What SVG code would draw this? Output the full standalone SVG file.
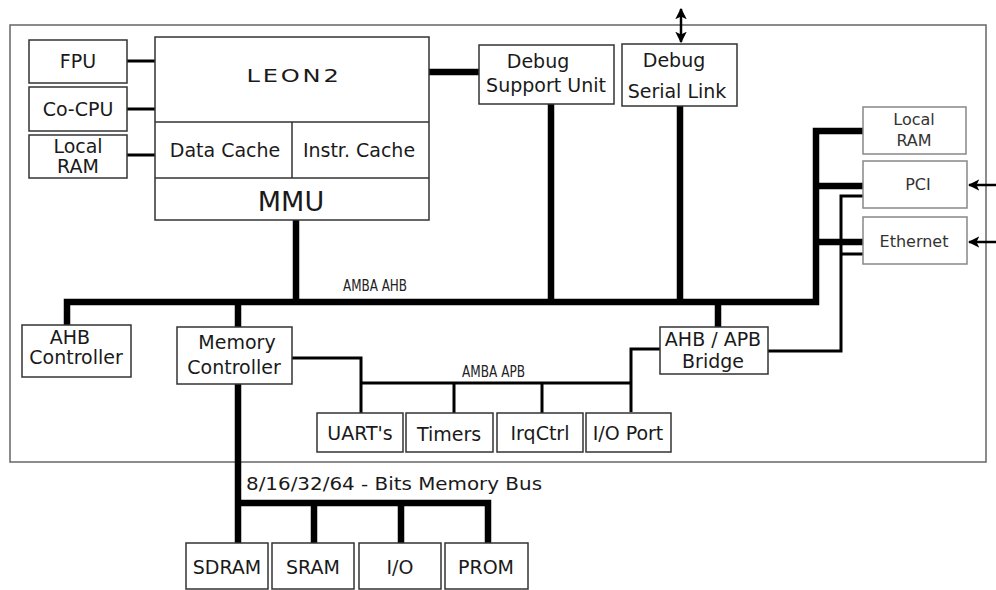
<svg xmlns="http://www.w3.org/2000/svg" width="996" height="590" viewBox="0 0 996 590">
<style>
.box{fill:#fff;stroke:#333;stroke-width:1.5}
.rbox{fill:#fff;stroke:#888;stroke-width:1.5}
.t{font-family:"DejaVu Sans",sans-serif;font-size:19px;fill:#1a1a1a;text-anchor:middle}
.rt{font-family:"DejaVu Sans",sans-serif;font-size:16px;fill:#333;text-anchor:middle}
.bus{font-family:"DejaVu Sans",sans-serif;font-size:15px;fill:#222}
.thick{fill:none;stroke:#000;stroke-width:6.5;stroke-linejoin:miter;stroke-linecap:butt}
.thin{fill:none;stroke:#000;stroke-width:3;stroke-linejoin:miter}
.arr{fill:none;stroke:#000;stroke-width:2.5}
</style>
<defs>
<marker id="ah" viewBox="0 0 10 10" refX="9" refY="5" markerWidth="4.6" markerHeight="4.6" orient="auto-start-reverse" markerUnits="strokeWidth">
<path d="M0,0 L10,5 L0,10 L2.5,5 Z" fill="#000"/>
</marker>
</defs>
<rect x="10" y="25" width="976" height="437" fill="none" stroke="#666" stroke-width="1.5"/>
<g id="connectors">
<path class="thin" d="M127,61 H155 M127,109 H155 M127,155 H155"/>
<path class="thick" d="M429,72 H479"/>
<path class="thick" d="M863,131 H816 V302 H67 V325"/>
<path class="thick" d="M816,186 H863 M816,242 H863"/>
<path class="thick" d="M296,220 V302 M551,104 V302 M680,106 V302 M238,302 V327 M718,302 V327"/>
<path class="thin" d="M863,196 H841 V351 H768 M841,254 H863"/>
<path class="thin" d="M660,349 H631 V412 M631,383 H361 M292,358 H361 V413 M454,383 V413 M542,383 V413"/>
<path class="thick" d="M238,384 V543 M238,503 H488 V543 M314,503 V543 M401,503 V543"/>
<path class="arr" d="M681,9 V42" marker-start="url(#ah)" marker-end="url(#ah)"/>
<path class="arr" d="M996,185 H969" marker-end="url(#ah)"/>
<path class="arr" d="M996,242 H969" marker-end="url(#ah)"/>
<text class="bus" x="343" y="291" textLength="64" lengthAdjust="spacingAndGlyphs">AMBA AHB</text>
<text class="bus" x="462" y="377" textLength="63" lengthAdjust="spacingAndGlyphs">AMBA APB</text>
<text class="t" x="246" y="490" style="text-anchor:start;font-size:18px" textLength="296" lengthAdjust="spacingAndGlyphs">8/16/32/64 - Bits Memory Bus</text>
</g>
<g id="fpu"><rect class="box" x="29" y="40" width="98" height="43"/><text class="t" x="78" y="68">FPU</text></g>
<g id="cocpu"><rect class="box" x="29" y="87" width="98" height="44"/><text class="t" x="78" y="116">Co-CPU</text></g>
<g id="localram1"><rect class="box" x="29" y="135" width="98" height="43"/><text class="t" x="78" y="153">Local</text><text class="t" x="78" y="173">RAM</text></g>
<g id="leon2">
<rect class="box" x="155" y="37" width="274" height="183"/>
<path d="M155,122 H429 M155,178 H429 M292,122 V178" stroke="#333" stroke-width="1.5" fill="none"/>
<text class="t" x="0" y="0" style="font-size:17px;letter-spacing:2px" transform="translate(294,82) scale(1.42,1)">LEON2</text>
<text class="t" x="225" y="157">Data Cache</text>
<text class="t" x="359" y="157">Instr. Cache</text>
<text class="t" x="291" y="211" style="font-size:27px">MMU</text>
</g>
<g id="dsu"><rect class="box" x="479" y="45" width="135" height="59"/><text class="t" x="538" y="68">Debug</text><text class="t" x="546" y="92">Support Unit</text></g>
<g id="dsl"><rect class="box" x="622" y="44" width="115" height="62"/><text class="t" x="674" y="67">Debug</text><text class="t" x="677" y="98">Serial Link</text></g>
<g id="localram2"><rect class="rbox" x="863" y="107" width="103" height="47"/><text class="rt" x="914" y="125">Local</text><text class="rt" x="914" y="146">RAM</text></g>
<g id="pci"><rect class="rbox" x="863" y="161" width="104" height="47"/><text class="rt" x="918" y="190">PCI</text></g>
<g id="ethernet"><rect class="rbox" x="863" y="217" width="104" height="47"/><text class="rt" x="914" y="247">Ethernet</text></g>
<g id="ahbctrl"><rect class="box" x="22" y="325" width="109" height="52"/><text class="t" x="70" y="344">AHB</text><text class="t" x="76" y="364">Controller</text></g>
<g id="memctrl"><rect class="box" x="177" y="327" width="115" height="57"/><text class="t" x="237" y="349">Memory</text><text class="t" x="234" y="374">Controller</text></g>
<g id="bridge"><rect class="box" x="660" y="327" width="108" height="47"/><text class="t" x="713" y="346">AHB / APB</text><text class="t" x="713" y="368">Bridge</text></g>
<g id="uart"><rect class="box" x="317" y="413" width="86" height="39"/><text class="t" x="360" y="440">UART's</text></g>
<g id="timers"><rect class="box" x="406" y="413" width="87" height="39"/><text class="t" x="449" y="441">Timers</text></g>
<g id="irqctrl"><rect class="box" x="497" y="413" width="86" height="39"/><text class="t" x="540" y="440">IrqCtrl</text></g>
<g id="ioport"><rect class="box" x="586" y="413" width="85" height="39"/><text class="t" x="628" y="440">I/O Port</text></g>
<g id="sdram"><rect class="box" x="186" y="543" width="82" height="46"/><text class="t" x="227" y="574">SDRAM</text></g>
<g id="sram"><rect class="box" x="272" y="543" width="82" height="46"/><text class="t" x="313" y="574">SRAM</text></g>
<g id="io"><rect class="box" x="359" y="543" width="82" height="46"/><text class="t" x="400" y="574">I/O</text></g>
<g id="prom"><rect class="box" x="445" y="543" width="83" height="46"/><text class="t" x="486" y="574">PROM</text></g>
</svg>
